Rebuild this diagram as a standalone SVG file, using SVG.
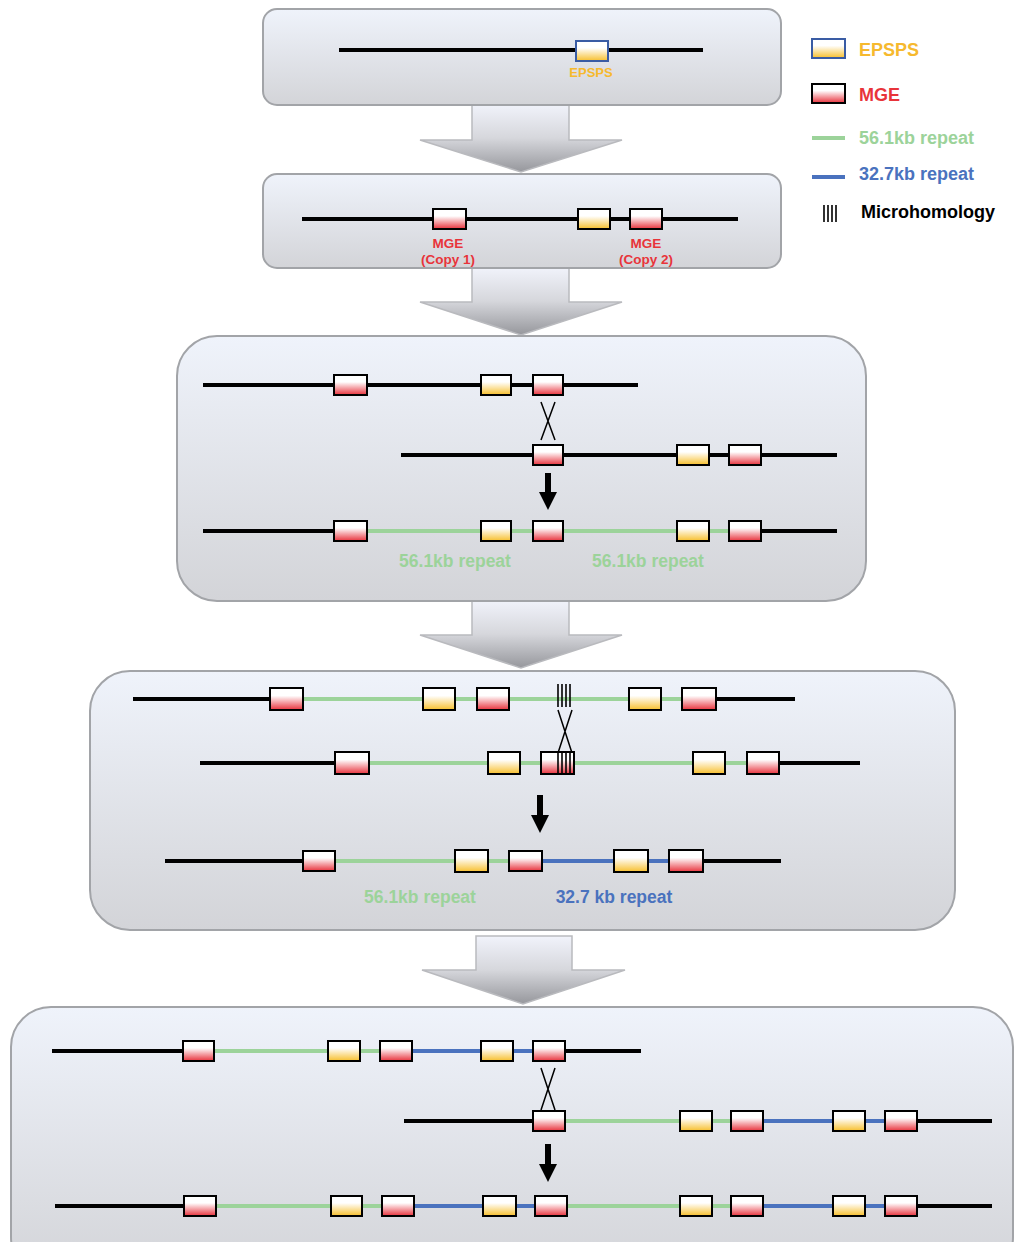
<svg xmlns="http://www.w3.org/2000/svg" width="1014" height="1242" viewBox="0 0 1014 1242">
<defs>
<linearGradient id="gPanel" x1="0" y1="0" x2="0" y2="1"><stop offset="0" stop-color="#eff3fb"/><stop offset="1" stop-color="#d3d4d8"/></linearGradient>
<linearGradient id="gArrow" x1="0" y1="0" x2="0" y2="1"><stop offset="0" stop-color="#f1f3fb"/><stop offset="0.5" stop-color="#d6d7dc"/><stop offset="1" stop-color="#96979c"/></linearGradient>
<linearGradient id="gMge" x1="0" y1="0" x2="0" y2="1"><stop offset="0" stop-color="#ffffff"/><stop offset="0.35" stop-color="#ffffff"/><stop offset="1" stop-color="#e8323c"/></linearGradient>
<linearGradient id="gEp" x1="0" y1="0" x2="0" y2="1"><stop offset="0" stop-color="#ffffff"/><stop offset="0.35" stop-color="#ffffff"/><stop offset="1" stop-color="#f7bf2c"/></linearGradient>
</defs>
<style>
.panel{fill:url(#gPanel);stroke:#a2a4a8;stroke-width:2}
.barrow{fill:url(#gArrow);stroke:#b9babe;stroke-width:1.5}
.k{stroke:#000;stroke-width:4;fill:none}
.g{stroke:#9cd39a;stroke-width:4;fill:none}
.b{stroke:#4a72be;stroke-width:4;fill:none}
.mge{fill:url(#gMge);stroke:#000;stroke-width:2}
.ep{fill:url(#gEp);stroke:#000;stroke-width:2}
.epb{fill:url(#gEp);stroke:#3a5ca4;stroke-width:2}
.x{stroke:#000;stroke-width:1.5;fill:none}
.mh{stroke:#000;stroke-width:1.6;fill:none}
.t{font-family:"Liberation Sans",Arial,sans-serif;font-weight:bold}
.tg{fill:#9cd39a}
.tb{fill:#4a72be}
.tr{fill:#e8343a}
.to{fill:#f6b92e}
</style>
<rect width="1014" height="1242" fill="#ffffff"/>

<g id="connectors">
<path class="barrow" d="M472,104 H569 V140 H622 L521,172 L420,140 H472 Z"/>
<path class="barrow" d="M472,267 H569 V302 H622 L521,335 L420,302 H472 Z"/>
<path class="barrow" d="M472,600 H569 V635 H622 L521,668 L420,635 H472 Z"/>
<path class="barrow" d="M476,936 H572 V970 H625 L523,1004 L422,970 H476 Z"/>
</g>

<g id="legend">
<rect class="epb" x="812" y="39" width="33" height="19"/>
<text class="t to" x="859" y="56" font-size="18">EPSPS</text>
<rect class="mge" x="812" y="84" width="33" height="19"/>
<text class="t tr" x="859" y="101" font-size="18">MGE</text>
<line class="g" x1="812" y1="138" x2="845" y2="138"/>
<text class="t tg" x="859" y="144" font-size="18">56.1kb repeat</text>
<line class="b" x1="812" y1="177" x2="845" y2="177"/>
<text class="t tb" x="859" y="180" font-size="18">32.7kb repeat</text>
<path class="mh" d="M824,205V222M828,205V222M832,205V222M836,205V222"/>
<text class="t" x="861" y="218" font-size="18" fill="#000">Microhomology</text>
</g>

<g id="panel1">
<rect class="panel" x="263" y="9" width="518" height="96" rx="14"/>
<line class="k" x1="339" y1="50" x2="703" y2="50"/>
<rect class="epb" x="576" y="41" width="32" height="20"/>
<text class="t to" x="591" y="77" font-size="13" text-anchor="middle">EPSPS</text>
</g>

<g id="panel2">
<rect class="panel" x="263" y="174" width="518" height="94" rx="14"/>
<line class="k" x1="302" y1="219" x2="738" y2="219"/>
<rect class="mge" x="433" y="209" width="33" height="20"/>
<rect class="ep" x="578" y="209" width="32" height="20"/>
<rect class="mge" x="630" y="209" width="32" height="20"/>
<text class="t tr" x="448" y="248" font-size="13.5" text-anchor="middle">MGE</text>
<text class="t tr" x="448" y="264" font-size="13.5" text-anchor="middle">(Copy 1)</text>
<text class="t tr" x="646" y="248" font-size="13.5" text-anchor="middle">MGE</text>
<text class="t tr" x="646" y="264" font-size="13.5" text-anchor="middle">(Copy 2)</text>
</g>

<g id="panel3">
<rect class="panel" x="177" y="336" width="689" height="265" rx="40"/>
<line class="k" x1="203" y1="385" x2="638" y2="385"/>
<rect class="mge" x="334" y="375" width="33" height="20"/>
<rect class="ep" x="481" y="375" width="30" height="20"/>
<rect class="mge" x="533" y="375" width="30" height="20"/>
<path class="x" d="M541,402 L555,440 M555,402 L541,440"/>
<line class="k" x1="401" y1="455" x2="837" y2="455"/>
<rect class="mge" x="533" y="445" width="30" height="20"/>
<rect class="ep" x="677" y="445" width="32" height="20"/>
<rect class="mge" x="729" y="445" width="32" height="20"/>
<path d="M545,473 H551 V492 H557 L548,510 L539,492 H545 Z" fill="#000"/>
<path class="k" d="M203,531 H336 M759,531 H837"/>
<path class="g" d="M367,531 H481 M511,531 H533 M563,531 H677 M709,531 H729"/>
<rect class="mge" x="334" y="521" width="33" height="20"/>
<rect class="ep" x="481" y="521" width="30" height="20"/>
<rect class="mge" x="533" y="521" width="30" height="20"/>
<rect class="ep" x="677" y="521" width="32" height="20"/>
<rect class="mge" x="729" y="521" width="32" height="20"/>
<text class="t tg" x="455" y="567" font-size="17.5" text-anchor="middle">56.1kb repeat</text>
<text class="t tg" x="648" y="567" font-size="17.5" text-anchor="middle">56.1kb repeat</text>
</g>

<g id="panel4">
<rect class="panel" x="90" y="671" width="865" height="259" rx="40"/>
<path class="k" d="M133,699 H272 M714,699 H795"/>
<path class="g" d="M303,699 H423 M455,699 H477 M509,699 H629 M661,699 H682"/>
<rect class="mge" x="270" y="688" width="33" height="22"/>
<rect class="ep" x="423" y="688" width="32" height="22"/>
<rect class="mge" x="477" y="688" width="32" height="22"/>
<rect class="ep" x="629" y="688" width="32" height="22"/>
<rect class="mge" x="682" y="688" width="34" height="22"/>
<path class="mh" d="M558,684V707M562,684V707M566,684V707M570,684V707"/>
<path class="x" d="M558,710 L572,753 M572,710 L558,753"/>
<path class="k" d="M200,763 H337 M777,763 H860"/>
<path class="g" d="M369,763 H488 M520,763 H541 M574,763 H693 M725,763 H747"/>
<rect class="mge" x="335" y="752" width="34" height="22"/>
<rect class="ep" x="488" y="752" width="32" height="22"/>
<rect class="mge" x="541" y="752" width="33" height="22"/>
<path class="mh" d="M558,753V773M562,753V773M566,753V773M570,753V773"/>
<rect class="ep" x="693" y="752" width="32" height="22"/>
<rect class="mge" x="747" y="752" width="32" height="22"/>
<path d="M537,795 H543 V815 H549 L540,833 L531,815 H537 Z" fill="#000"/>
<path class="k" d="M165,861 H305 M701,861 H781"/>
<path class="g" d="M335,861 H455 M488,861 H509"/>
<path class="b" d="M542,861 H614 M648,861 H669"/>
<rect class="mge" x="303" y="851" width="32" height="20"/>
<rect class="ep" x="455" y="850" width="33" height="22"/>
<rect class="mge" x="509" y="851" width="33" height="20"/>
<rect class="ep" x="614" y="850" width="34" height="22"/>
<rect class="mge" x="669" y="850" width="34" height="22"/>
<text class="t tg" x="420" y="903" font-size="17.5" text-anchor="middle">56.1kb repeat</text>
<text class="t tb" x="614" y="903" font-size="17.5" text-anchor="middle">32.7 kb repeat</text>
</g>

<g id="panel5">
<rect class="panel" x="11" y="1007" width="1002" height="270" rx="40"/>
<path class="k" d="M52,1051 H185 M563,1051 H641"/>
<path class="g" d="M214,1051 H328 M360,1051 H380"/>
<path class="b" d="M412,1051 H481 M513,1051 H533"/>
<rect class="mge" x="183" y="1041" width="31" height="20"/>
<rect class="ep" x="328" y="1041" width="32" height="20"/>
<rect class="mge" x="380" y="1041" width="32" height="20"/>
<rect class="ep" x="481" y="1041" width="32" height="20"/>
<rect class="mge" x="533" y="1041" width="32" height="20"/>
<path class="x" d="M541,1068 L555,1110 M555,1068 L541,1110"/>
<path class="k" d="M404,1121 H535 M915,1121 H992"/>
<path class="g" d="M565,1121 H680 M712,1121 H731"/>
<path class="b" d="M763,1121 H833 M865,1121 H885"/>
<rect class="mge" x="533" y="1111" width="32" height="20"/>
<rect class="ep" x="680" y="1111" width="32" height="20"/>
<rect class="mge" x="731" y="1111" width="32" height="20"/>
<rect class="ep" x="833" y="1111" width="32" height="20"/>
<rect class="mge" x="885" y="1111" width="32" height="20"/>
<path d="M545,1144 H551 V1164 H557 L548,1182 L539,1164 H545 Z" fill="#000"/>
<path class="k" d="M55,1206 H186 M915,1206 H992"/>
<path class="g" d="M216,1206 H331 M362,1206 H382 M567,1206 H680 M712,1206 H731"/>
<path class="b" d="M414,1206 H483 M516,1206 H535 M763,1206 H833 M865,1206 H885"/>
<rect class="mge" x="184" y="1196" width="32" height="20"/>
<rect class="ep" x="331" y="1196" width="31" height="20"/>
<rect class="mge" x="382" y="1196" width="32" height="20"/>
<rect class="ep" x="483" y="1196" width="33" height="20"/>
<rect class="mge" x="535" y="1196" width="32" height="20"/>
<rect class="ep" x="680" y="1196" width="32" height="20"/>
<rect class="mge" x="731" y="1196" width="32" height="20"/>
<rect class="ep" x="833" y="1196" width="32" height="20"/>
<rect class="mge" x="885" y="1196" width="32" height="20"/>
</g>
</svg>
